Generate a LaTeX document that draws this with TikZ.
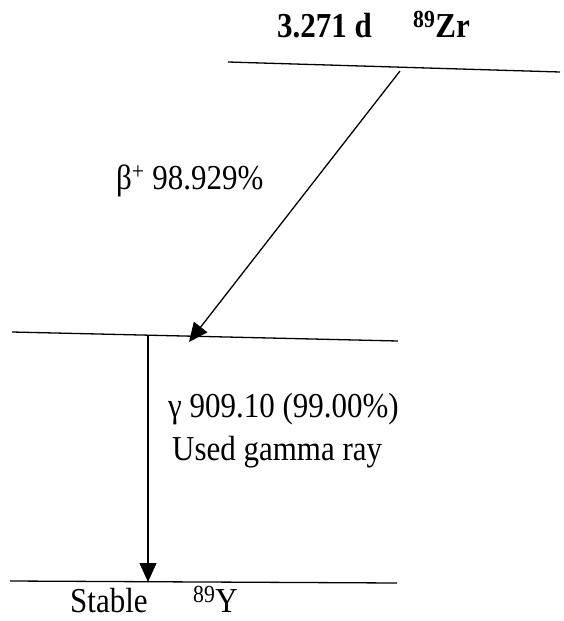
\documentclass[tikz,border=0pt]{standalone}
\usepackage{fontspec}
\setmainfont{Liberation Serif}[FakeStretch=0.885]
\usepackage{tikz}
\usetikzlibrary{arrows.meta}
\tikzstyle{level} = [line width=1.3pt]
\tikzstyle{label} = [
    anchor=base west,
    inner sep=0pt,
    font=\fontsize{35}{40}\selectfont
]
\tikzstyle{arrow} = [line width=1.3pt, -{Triangle[length=19pt,width=17pt]}]

\begin{document}
\begin{tikzpicture}[x=1pt, y=-1pt]
\useasboundingbox (0,0) rectangle (563,621);

% levels
\coordinate (zrL) at (228,62);
\coordinate (zrR) at (560,72);
\coordinate (midL) at (12,332);
\coordinate (midR) at (398,341);
\coordinate (yL) at (10,581);
\coordinate (yR) at (397,583);

\draw [level] (zrL) -- (zrR);
\draw [level] (midL) -- (midR);
\draw [level] (yL) -- (yR);

% transitions
\coordinate (betaStart) at (400,71);
\coordinate (betaEnd) at (189,342);
\coordinate (gammaStart) at (148,336);
\coordinate (gammaEnd) at (148,582);

\draw [arrow] (betaStart) -- (betaEnd);
\draw [arrow] (gammaStart) -- (gammaEnd);

% texts
\node (halflife) [label, font=\fontsize{35}{40}\selectfont\bfseries] at (277,37) {3.271 d};
\node (parent) [label, font=\fontsize{35}{40}\selectfont\bfseries] at (413,37) {\textsuperscript{89}Zr};
\node (beta) [label] at (116,189) {β\textsuperscript{+} 98.929\%};
\node (gamma) [label] at (168,417) {γ 909.10 (99.00\%)};
\node (used) [label] at (172,460) {Used gamma ray};
\node (stable) [label] at (70,612) {Stable};
\node (daughter) [label] at (193,612) {\textsuperscript{89}Y};

\end{tikzpicture}
\end{document}
